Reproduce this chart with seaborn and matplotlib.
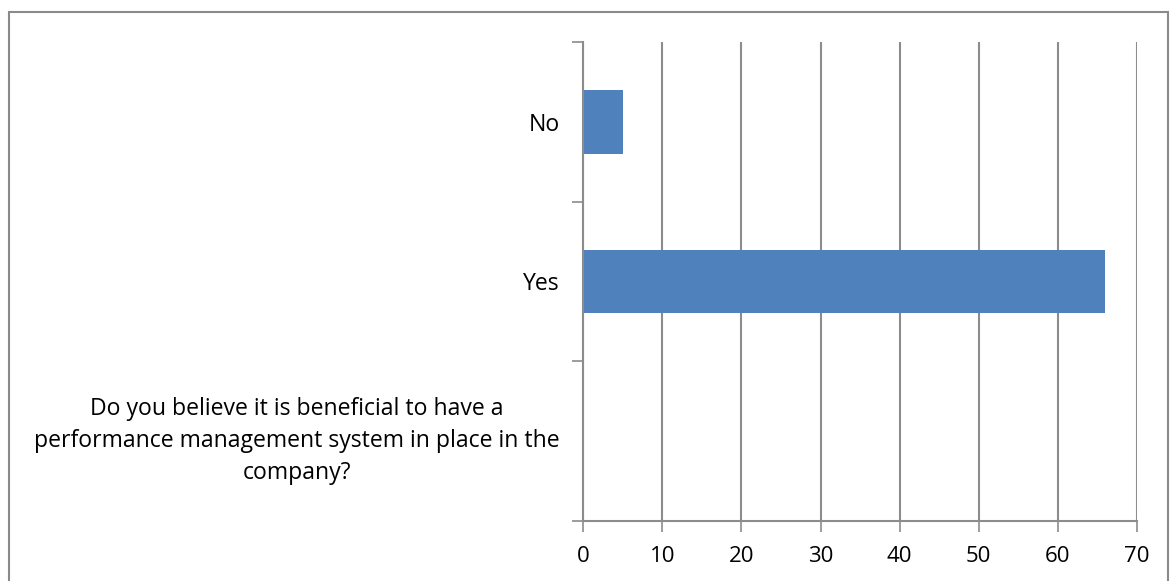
import matplotlib
matplotlib.use("Agg")
import matplotlib.pyplot as plt
import matplotlib.patches as mpatches
import seaborn as sns
import pandas as pd

# data (top to bottom as drawn)
categories = [
    "No",
    "Yes",
    "Do you believe it is beneficial to have a\nperformance management system in place in the\ncompany?",
]
values = [5, 66, 0]
x_ticks = [0, 10, 20, 30, 40, 50, 60, 70]

df = pd.DataFrame({"answer": categories, "count": values})

sns.set_style("white")
plt.rcParams["font.family"] = ["Open Sans", "DejaVu Sans"]

fig = plt.figure(figsize=(11.71, 5.81), dpi=100)
ax = fig.add_axes([0.498, 0.103, 0.473, 0.825])

sns.barplot(data=df, x="count", y="answer", order=categories, orient="h",
            color="#4F81BD", saturation=1, width=0.4, linewidth=0, ax=ax)

grid_col = "#8c8c8c"
ax.set_xlim(0, 70)
ax.set_ylim(2.5, -0.5)
ax.set_xticks(x_ticks)
ax.set_xticklabels([str(t) for t in x_ticks], fontsize=16)
ax.xaxis.grid(True, color=grid_col, linewidth=1.5)
ax.set_axisbelow(True)
ax.set_xlabel("")
ax.set_ylabel("")

# category boundary ticks on y axis
ax.set_yticks([-0.5, 0.5, 1.5, 2.5], minor=True)
ax.tick_params(axis="y", which="minor", length=8, width=1.2, color=grid_col, direction="out", left=True)
ax.tick_params(axis="y", which="major", length=0, pad=17, labelsize=16.6, labelcolor="black")
ax.tick_params(axis="x", which="major", length=8, width=1.2, color=grid_col, direction="out",
               bottom=True, pad=10, labelcolor="black")
for lab in ax.get_yticklabels():
    lab.set_multialignment("center")
    lab.set_linespacing(1.45)
    if "\n" in lab.get_text():
        lab.set_verticalalignment("center")

for side in ["top", "right"]:
    ax.spines[side].set_visible(False)
for side in ["left", "bottom"]:
    ax.spines[side].set_color(grid_col)
    ax.spines[side].set_linewidth(1.5)

# outer chart border
fig.patches.append(mpatches.Rectangle((9 / 1171, -0.05), (1168 - 9) / 1171, 1.05 - 11.5 / 581,
                                      transform=fig.transFigure, fill=False,
                                      edgecolor="#8a8a8a", linewidth=1.5))

fig.savefig("out.png", dpi=100)
